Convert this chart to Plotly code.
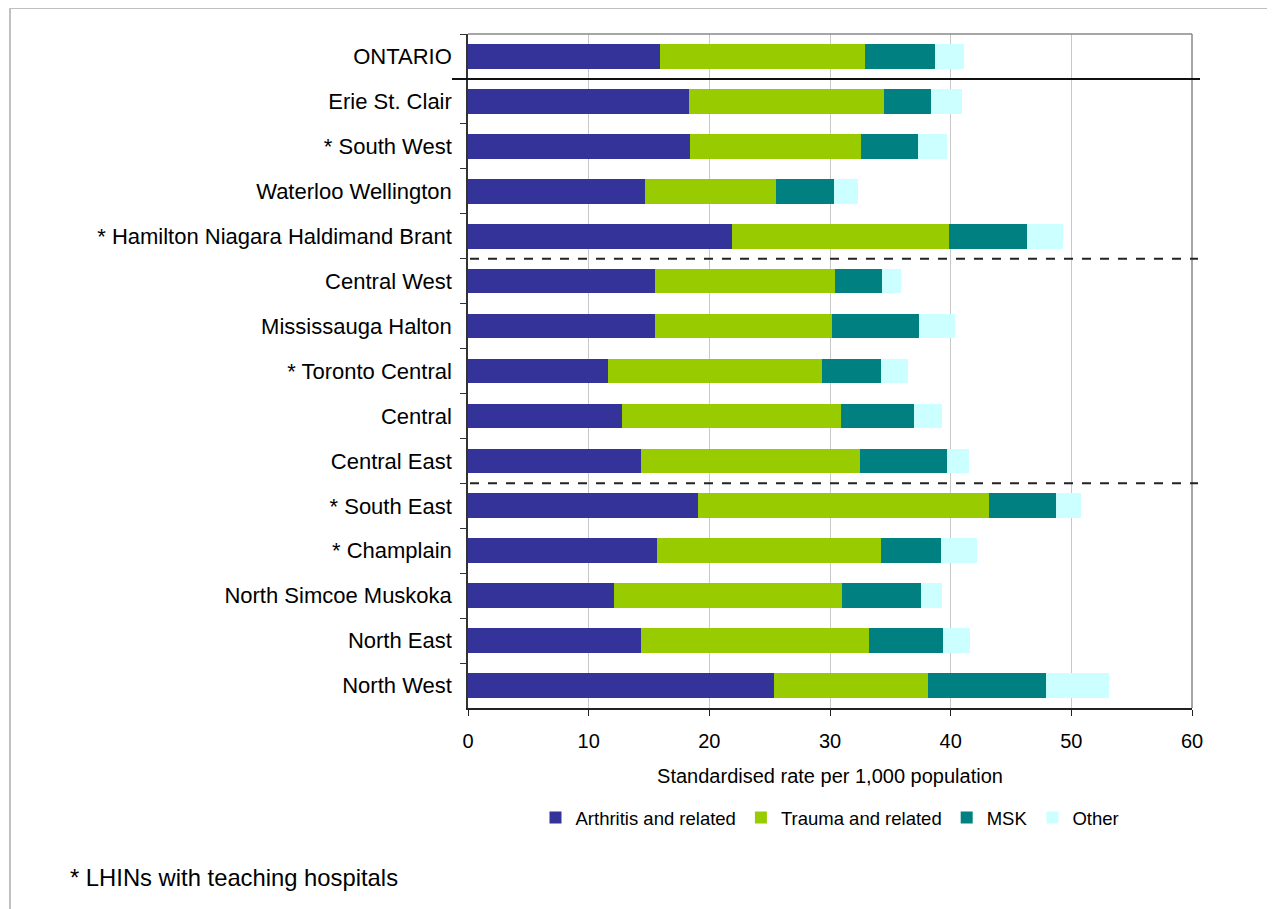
import plotly.graph_objects as go

regions = ["ONTARIO", "Erie St. Clair", "* South West", "Waterloo Wellington",
           "* Hamilton Niagara Haldimand Brant", "Central West", "Mississauga Halton",
           "* Toronto Central", "Central", "Central East", "* South East", "* Champlain",
           "North Simcoe Muskoka", "North East", "North West"]

arthritis = [15.9, 18.3, 18.4, 14.7, 21.9, 15.5, 15.5, 11.6, 12.8, 14.3, 19.1, 15.7, 12.1, 14.3, 25.4]
trauma    = [17.0, 16.2, 14.2, 10.8, 18.0, 14.9, 14.7, 17.7, 18.1, 18.2, 24.1, 18.5, 18.9, 18.9, 12.7]
msk       = [5.8, 3.9, 4.7, 4.8, 6.4, 3.9, 7.2, 4.9, 6.1, 7.2, 5.5, 5.0, 6.5, 6.2, 9.8]
other     = [2.4, 2.5, 2.4, 2.0, 3.0, 1.6, 3.0, 2.3, 2.3, 1.8, 2.1, 3.0, 1.8, 2.2, 5.2]

series_names = ["Arthritis and related", "Trauma and related", "MSK", "Other"]
series_vals = [arthritis, trauma, msk, other]
colors = ["#333399", "#99CC00", "#008080", "#CCFFFF"]

x_ticks = [0, 10, 20, 30, 40, 50, 60]
x_title = "Standardised rate per 1,000 population"
footnote = "* LHINs with teaching hospitals"

# group separators (after these rows)
solid_after = ["ONTARIO"]
dashed_after = ["* Hamilton Niagara Haldimand Brant", "Central East"]

FONT = "Liberation Sans, Arial, sans-serif"

fig = go.Figure()
for name, vals, col in zip(series_names, series_vals, colors):
    fig.add_trace(go.Bar(y=regions, x=vals, name=name, orientation="h",
                         marker=dict(color=col, line=dict(width=0))))

OFF = 8  # page body offset
W, H = 1275 - OFF, 909 - OFF
# plot area in page pixels: x 468..1192, y 34..708
L, T = 468 - OFF, 34 - OFF
R = W - (1192 - OFF)
B = H - (708 - OFF)
pw, ph = W - L - R, H - T - B
n = len(regions)

def ypaper(k):
    return (n - 0.5 - k) / n

def xp(px):
    return (px - OFF - L) / pw

def yp(py):
    return (H - B - (py - OFF)) / ph

shapes = []
shapes.append(dict(type="rect", xref="paper", yref="paper",
                   x0=xp(10), x1=xp(1300), y0=yp(940), y1=yp(8),
                   line=dict(color="#c0c0c0", width=2), fillcolor="rgba(0,0,0,0)", layer="below"))
shapes.append(dict(type="line", xref="paper", yref="paper", x0=0, x1=1, y0=1, y1=1,
                   line=dict(color="#888888", width=1.5)))
shapes.append(dict(type="line", xref="paper", yref="paper", x0=1, x1=1, y0=0, y1=1,
                   line=dict(color="#888888", width=1.5)))
for r in solid_after:
    k = regions.index(r) + 0.5
    shapes.append(dict(type="line", xref="paper", yref="paper", x0=xp(452), x1=xp(1200),
                       y0=ypaper(k), y1=ypaper(k), line=dict(color="#111111", width=2)))
for r in dashed_after:
    k = regions.index(r) + 0.5
    shapes.append(dict(type="line", xref="paper", yref="paper", x0=xp(470), x1=xp(1198),
                       y0=ypaper(k), y1=ypaper(k), line=dict(color="#222222", width=2, dash="dash")))

fig.update_layout(
    width=W, height=H,
    margin=dict(l=L, r=R, t=T, b=B, pad=0),
    barmode="stack", bargap=0.45,
    plot_bgcolor="white", paper_bgcolor="white",
    font=dict(family=FONT, size=20, color="black"),
    showlegend=True,
    legend=dict(orientation="h", x=0.5, xanchor="center", y=yp(818), yanchor="middle",
                font=dict(size=18.5), itemwidth=30, tracegroupgap=0, traceorder="normal",
                bgcolor="rgba(0,0,0,0)"),
    shapes=shapes,
    annotations=[dict(text=footnote, xref="paper", yref="paper", x=xp(68), y=yp(877),
                      xanchor="left", yanchor="middle", showarrow=False,
                      font=dict(size=23.8, family=FONT))],
)
fig.update_xaxes(range=[0, 60], tickvals=x_ticks, ticktext=[str(v) for v in x_ticks],
                 showgrid=True, gridcolor="#c8c8c8", gridwidth=1,
                 showline=True, linecolor="#222222", linewidth=1.5,
                 ticks="outside", ticklen=6, tickcolor="#222222",
                 zeroline=False, ticklabelstandoff=8,
                 title=dict(text=x_title, standoff=18, font=dict(size=20)),
                 tickfont=dict(size=20))
fig.update_yaxes(type="category", range=[n - 0.5, -0.5], categoryorder="array",
                 categoryarray=regions, showgrid=False,
                 showline=True, linecolor="#333333", linewidth=1.5,
                 ticks="outside", ticklen=6, tickcolor="#333333", tickson="boundaries",
                 tickfont=dict(size=22), ticklabelstandoff=10)

fig.write_html("out.html")
